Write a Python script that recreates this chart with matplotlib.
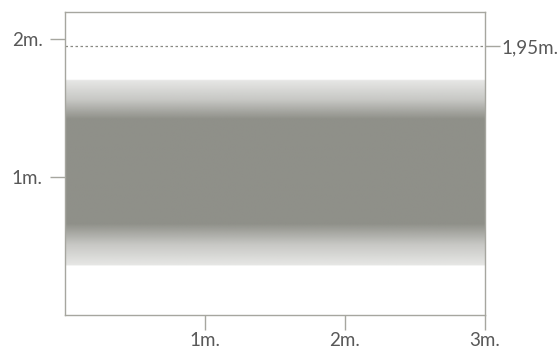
import numpy as np
import matplotlib.pyplot as plt

plt.rcParams['font.family'] = ['Lato', 'DejaVu Sans']

# Datos
x_ticks = [1, 2, 3]
x_labels = ['1m.', '2m.', '3m.']
y_ticks = [1, 2]
y_labels = ['1m.', '2m.']
linea_ref = 1.95
linea_ref_label = '1,95m.'
# bordes de la banda (exterior difuso e interior sólido)
banda_x = [0, 3]
banda_ext = [0.36, 1.70]
banda_int = [0.66, 1.42]

gris_ejes = '#a6a69f'
gris_texto = '#585858'
gris_banda = np.array([143, 144, 137]) / 255

fig = plt.figure(figsize=(5.6, 3.5), dpi=100)
ax = fig.add_axes([0.116, 0.1, 0.75, 0.866])
ax.set_xlim(0, 3)
ax.set_ylim(0, 2.2)

# Banda con degradado en los bordes
ys = np.linspace(0, 2.2, 600)
alpha = np.interp(ys,
                  [banda_ext[0] - 0.005, banda_ext[0], (banda_ext[0] + banda_int[0]) / 2, banda_int[0],
                   banda_int[1], (banda_ext[1] + banda_int[1]) / 2, banda_ext[1], banda_ext[1] + 0.005],
                  [0, 0.22, 0.5, 1, 1, 0.5, 0.22, 0])
img = np.zeros((len(ys), 2, 4))
img[:, :, :3] = gris_banda
img[:, :, 3] = alpha[:, None]
ax.imshow(img, extent=[banda_x[0], banda_x[1], 0, 2.2], origin='lower',
          aspect='auto', interpolation='bilinear', zorder=1)

ax.axhline(linea_ref, color='#8a8a84', linestyle=(0, (2, 2)), linewidth=0.9, zorder=2)

for s in ax.spines.values():
    s.set_color(gris_ejes)
    s.set_linewidth(1)

ax.set_xticks(x_ticks)
ax.set_xticklabels(x_labels)
ax.set_yticks(y_ticks)
ax.set_yticklabels(y_labels)
ax.tick_params(axis='both', length=11, width=1, color=gris_ejes,
               labelcolor=gris_texto, labelsize=13.5)
ax.tick_params(axis='y', pad=5)
ax.tick_params(axis='x', pad=1)

ax2 = ax.twinx()
ax2.set_ylim(0, 2.2)
ax2.set_yticks([linea_ref])
ax2.set_yticklabels([linea_ref_label])
ax2.tick_params(axis='y', length=11, width=1, color=gris_ejes,
                labelcolor=gris_texto, labelsize=13.5, pad=1)
for s in ax2.spines.values():
    s.set_visible(False)

fig.savefig('out.png', dpi=100)
